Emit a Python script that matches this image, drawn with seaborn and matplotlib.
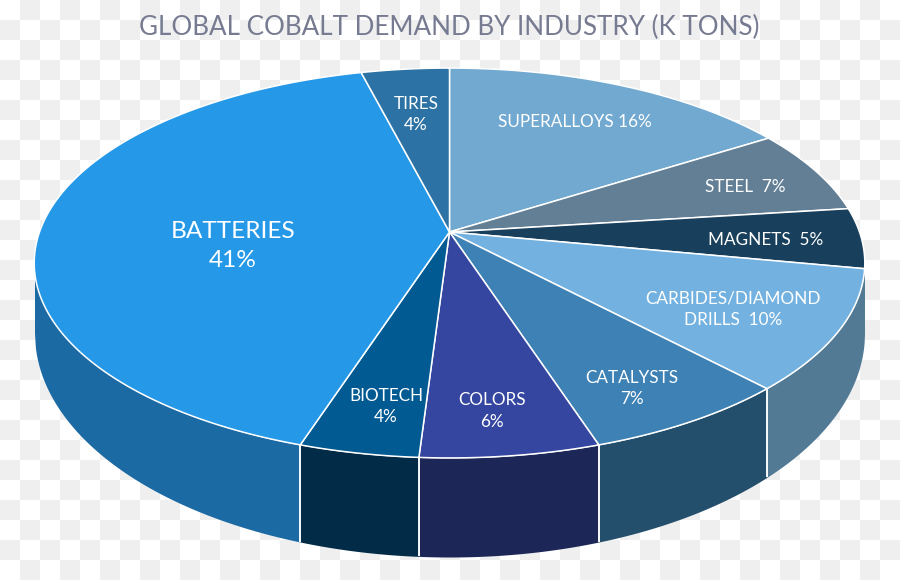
import numpy as np
import matplotlib
matplotlib.use("Agg")
import matplotlib.pyplot as plt
from matplotlib.patches import Rectangle
import seaborn as sns

# --- data ---
TITLE = "GLOBAL COBALT DEMAND BY INDUSTRY (K TONS)"
industries = ["SUPERALLOYS", "STEEL", "MAGNETS", "CARBIDES/DIAMOND DRILLS", "CATALYSTS",
              "COLORS", "BIOTECH", "BATTERIES", "TIRES"]
shares = [16, 7, 5, 10, 7, 6, 4, 41, 4]
top_colors = ["#72a9d1", "#637f96", "#183f5c", "#73b2e0", "#3d81b5",
              "#3546a0", "#025a93", "#2599e8", "#2c72a4"]
side_colors = [None, None, None, "#527a94", "#234f6c",
               "#1c2758", "#022b48", "#1c6aa3", None]
label_texts = ["SUPERALLOYS 16%", "STEEL  7%", "MAGNETS  5%", "CARBIDES/DIAMOND\nDRILLS  10%",
               "CATALYSTS\n7%", "COLORS\n6%", "BIOTECH\n4%", "BATTERIES\n41%", "TIRES\n4%"]

# --- layout ---
W, H = 900, 580
APEX = (449.5, 232.0)       # where the slices meet
AX, AY, KP = 410.0, 190.0, 0.159   # perspective projection of the unit disc
TOP_CY, TOP_RY = 263.0, 195.0
BOT_CY, BOT_RY = 333.0, 224.0
RX = 415.0
label_xy = [(575, 122), (745, 187), (766, 240), (733, 309.5), (632, 388.5),
            (492, 411), (386, 406.5), (233, 246), (416, 114.5)]
label_size = [12.3, 12.3, 12.3, 12.3, 12.3, 12.3, 12.3, 17.6, 12.3]


def project(theta):
    """theta clockwise from 12 o'clock on the unit disc -> picture coordinates."""
    u, v = np.sin(theta), np.cos(theta)
    d = 1 + KP * v
    return APEX[0] + AX * u / d, APEX[1] - AY * v / d


def half_span(x):
    return np.sqrt(np.clip(1 - ((x - APEX[0]) / RX) ** 2, 0, 1))


sns.set_theme(style="white")
plt.rcParams["font.family"] = ["Lato", "DejaVu Sans"]
palette = sns.color_palette(top_colors)

fig = plt.figure(figsize=(W / 100, H / 100), dpi=100)
ax = fig.add_axes([0, 0, 1, 1])
ax.set_xlim(0, W)
ax.set_ylim(H, 0)
ax.axis("off")

# transparency-style checker backdrop
for row in range(H // 20 + 1):
    for col in range(W // 20 + 1):
        if (row + col) % 2:
            ax.add_patch(Rectangle((col * 20, row * 20), 20, 20, facecolor="#efefef",
                                   edgecolor="none", zorder=0))

edges = np.cumsum([0] + shares) / sum(shares) * 2 * np.pi

# side wall, one piece per front-facing slice
for i, col in enumerate(side_colors):
    if col is None:
        continue
    x0 = project(edges[i])[0]
    x1 = project(edges[i + 1])[0]
    hi, lo = x0, x1
    if i == 3:
        hi = APEX[0] + RX
        lo = x1
    if i == 7:
        lo = APEX[0] - RX
    lo, hi = min(lo, hi), max(lo, hi)
    xs = np.linspace(lo, hi, 300)
    s = half_span(xs)
    ax.fill_between(xs, TOP_CY + TOP_RY * s, BOT_CY + BOT_RY * s, color=col, lw=0, zorder=1)
    xv = x0 if i != 3 else x1
    sv = half_span(xv)
    ax.plot([xv, xv], [TOP_CY + TOP_RY * sv, BOT_CY + BOT_RY * sv],
            color="white", lw=1.1, zorder=2, solid_capstyle="butt")
    xv = x1
    sv = half_span(xv)
    if i in (4, 5, 6):
        ax.plot([xv, xv], [TOP_CY + TOP_RY * sv, BOT_CY + BOT_RY * sv],
                color="white", lw=1.1, zorder=2, solid_capstyle="butt")

# top face
for i, col in enumerate(palette):
    th = np.linspace(edges[i], edges[i + 1], 120)
    xs, ys = project(th)
    ax.fill(np.r_[APEX[0], xs], np.r_[APEX[1], ys], facecolor=col, edgecolor="white",
            lw=1.1, joinstyle="round", zorder=3)

# labels
for text, (x, y), size in zip(label_texts, label_xy, label_size):
    ax.text(x, y, text, color="white", fontsize=size, ha="center", va="center",
            linespacing=1.42, zorder=4)

ax.text(449.5, 27.5, TITLE, color="#777b91", fontsize=18.7, ha="center", va="center", zorder=4)

fig.savefig("out.png", dpi=100)
